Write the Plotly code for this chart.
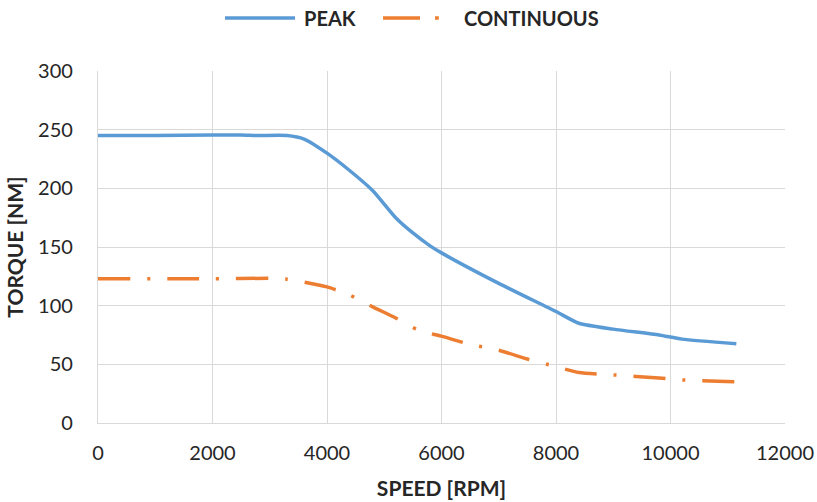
import plotly.graph_objects as go

speed_peak = [0, 1000, 2000, 2500, 2800, 3300, 3600, 4000, 4400, 4800, 5200, 5500, 5800, 6000, 7000, 8000, 8400, 9000, 9800, 10200, 11150]
torque_peak = [245, 245, 245.5, 245.5, 245, 245, 242, 230, 215, 198, 175, 162, 151, 145, 119, 95, 85, 80, 75, 71.5, 67.5]

speed_cont = [0, 2000, 3000, 3300, 3600, 4000, 4400, 4800, 5200, 5600, 6000, 6500, 7000, 7500, 8000, 8400, 9000, 9800, 10200, 11150]
torque_cont = [123, 123, 123.3, 122.6, 120, 116, 109, 99, 89.5, 79, 74, 67, 62, 54.5, 48, 43, 41, 38.3, 36.7, 35]

x_ticks = [0, 2000, 4000, 6000, 8000, 10000, 12000]
y_ticks = [0, 50, 100, 150, 200, 250, 300]

BLUE = "#5B9BD5"
ORANGE = "#ED7D31"
GRID = "#D9D9D9"
FONT = "Lato"
TXT = "#262626"

fig = go.Figure()
fig.add_trace(go.Scatter(x=speed_peak, y=torque_peak, mode="lines", name="PEAK",
                         line=dict(color=BLUE, width=3.5, shape="spline", smoothing=0.6),
                         showlegend=False))
fig.add_trace(go.Scatter(x=speed_cont, y=torque_cont, mode="lines", name="CONTINUOUS",
                         line=dict(color=ORANGE, width=3.5, shape="spline", smoothing=0.6,
                                   dash="32px,17px,3px,17px"),
                         showlegend=False))

# custom legend (top, centered)
ly = 1.1506
fig.add_shape(type="line", xref="paper", yref="paper", x0=0.1849, x1=0.2868, y0=ly, y1=ly,
              line=dict(color=BLUE, width=3.5))
fig.add_shape(type="line", xref="paper", yref="paper", x0=0.4149, x1=0.4960, y0=ly, y1=ly,
              line=dict(color=ORANGE, width=3.5, dash="37px,15px,4px,100px"))
fig.add_annotation(xref="paper", yref="paper", x=0.2969, y=ly, xanchor="left", yanchor="middle",
                   text="<b>PEAK</b>", showarrow=False, font=dict(family=FONT, size=20, color=TXT))
fig.add_annotation(xref="paper", yref="paper", x=0.5298, y=ly, xanchor="left", yanchor="middle",
                   text="<b>CONTINUOUS</b>", showarrow=False, font=dict(family=FONT, size=20, color=TXT))

fig.update_layout(
    width=817, height=502,
    margin=dict(l=98, r=32, t=71, b=79),
    paper_bgcolor="white", plot_bgcolor="white",
    font=dict(family=FONT, size=20, color=TXT),
    showlegend=False,
)
fig.update_xaxes(range=[0, 12000], tickvals=x_ticks, ticktext=[str(v) for v in x_ticks],
                 showgrid=True, gridcolor=GRID, gridwidth=1.3, zeroline=False,
                 showline=True, linecolor=GRID, linewidth=1.3, ticks="", ticklen=0,
                 ticklabelstandoff=12, automargin=False,
                 title=dict(text="<b>SPEED [RPM]</b>", font=dict(family=FONT, size=21, color=TXT), standoff=18))
fig.update_yaxes(range=[0, 300], tickvals=y_ticks, ticktext=[str(v) for v in y_ticks],
                 showgrid=True, gridcolor=GRID, gridwidth=1.3, zeroline=False,
                 showline=True, linecolor=GRID, linewidth=1.3, ticks="", ticklen=0,
                 ticklabelstandoff=20, automargin=False,
                 title=dict(text="<b>TORQUE [NM]</b>", font=dict(family=FONT, size=21, color=TXT), standoff=8))

fig.write_html("out.html")
